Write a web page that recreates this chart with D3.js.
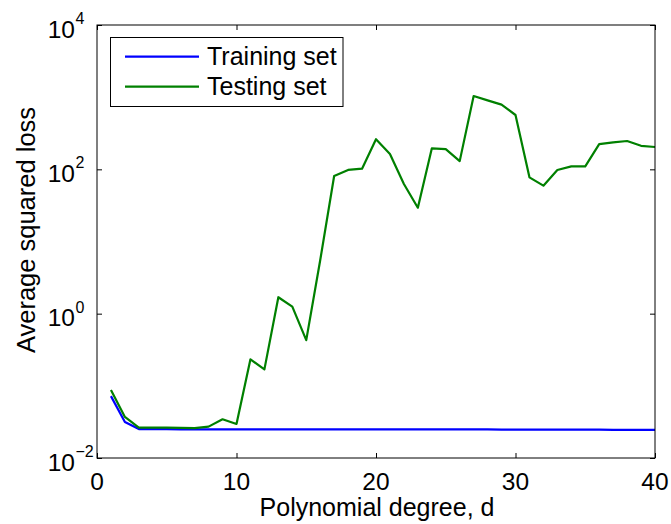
<!DOCTYPE html>
<html>
<head>
<meta charset="utf-8">
<script src="https://cdn.jsdelivr.net/npm/d3@7.9.0/dist/d3.min.js"></script>
<style>
  body { margin: 0; background: #fff; }
  svg text { font-family: "Liberation Sans", Arial, sans-serif; fill: #000; }
</style>
</head>
<body>
<svg id="chart" width="671" height="524"></svg>
<script>
// polynomial degree on x
const degrees = d3.range(1, 41);

// average squared loss
const trainLoss = [
  0.072, 0.0316, 0.0252, 0.0251, 0.0251, 0.0250, 0.0250, 0.0250, 0.0250, 0.0250,
  0.0250, 0.0250, 0.0249, 0.0249, 0.0249, 0.0249, 0.0249, 0.0249, 0.0249, 0.0249,
  0.0249, 0.0249, 0.0249, 0.0249, 0.0249, 0.0249, 0.0249, 0.0249, 0.0248, 0.0248,
  0.0247, 0.0247, 0.0247, 0.0247, 0.0247, 0.0247, 0.0246, 0.0246, 0.0246, 0.0246
];
const testLoss = [
  0.0875, 0.037, 0.0263, 0.0263, 0.0264, 0.0262, 0.0259, 0.0272, 0.0344, 0.0296,
  0.233, 0.169, 1.69, 1.25, 0.43, 5.5, 80.8, 98, 102, 261,
  163, 62.6, 29.4, 195, 191, 130, 1038, 904, 787, 566,
  77.5, 59.4, 97.8, 110, 110, 224, 237, 247, 212, 204
];

const xTicks = [0, 10, 20, 30, 40];
const yTickExps = [-2, 0, 2, 4];

const seriesNames = ['Training set', 'Testing set'];
const seriesColors = ['#0000ff', '#008000'];

const plotLeft = 97, plotRight = 655, plotTop = 25, plotBottom = 458;

const svg = d3.select('#chart');

const x = d3.scaleLinear().domain([0, 40]).range([plotLeft, plotRight]);
const y = d3.scaleLog().domain([1e-2, 1e4]).range([plotBottom, plotTop]);

// lines
const line = d3.line()
  .x((d) => x(d[0]))
  .y((d) => y(d[1]));

[trainLoss, testLoss].forEach((vals, i) => {
  svg.append('path')
    .datum(degrees.map((d, j) => [d, vals[j]]))
    .attr('fill', 'none')
    .attr('stroke', seriesColors[i])
    .attr('stroke-width', 2.2)
    .attr('stroke-linejoin', 'round')
    .attr('d', line);
});

// axes with inward ticks on all four sides
const tickLen = 5;
const axisStyle = (g) => {
  g.select('.domain').remove();
  g.selectAll('.tick line').attr('stroke', '#000').attr('stroke-width', 1);
  g.selectAll('.tick text').remove();
};

svg.append('g').attr('transform', `translate(0,${plotBottom})`)
  .call(d3.axisBottom(x).tickValues(xTicks).tickSize(-tickLen))
  .call(axisStyle);
svg.append('g').attr('transform', `translate(0,${plotTop})`)
  .call(d3.axisTop(x).tickValues(xTicks).tickSize(-tickLen))
  .call(axisStyle);

const yTicks = yTickExps.map((e) => Math.pow(10, e));
svg.append('g').attr('transform', `translate(${plotLeft},0)`)
  .call(d3.axisLeft(y).tickValues(yTicks).tickSize(-tickLen))
  .call(axisStyle);
svg.append('g').attr('transform', `translate(${plotRight},0)`)
  .call(d3.axisRight(y).tickValues(yTicks).tickSize(-tickLen))
  .call(axisStyle);

// frame
svg.append('rect')
  .attr('x', plotLeft).attr('y', plotTop)
  .attr('width', plotRight - plotLeft).attr('height', plotBottom - plotTop)
  .attr('fill', 'none').attr('stroke', '#000').attr('stroke-width', 1);

// x tick labels
svg.selectAll('.xlab')
  .data(xTicks)
  .join('text')
  .attr('x', (d) => x(d))
  .attr('y', 490)
  .attr('text-anchor', 'middle')
  .attr('font-size', 24.5)
  .text((d) => d);

// y tick labels 10^n
yTickExps.forEach((e) => {
  const ty = y(Math.pow(10, e));
  svg.append('text')
    .attr('x', 75).attr('y', ty + 12.5)
    .attr('text-anchor', 'end')
    .attr('font-size', 24.5)
    .text('10');
  svg.append('text')
    .attr('x', 75.5).attr('y', ty - 1)
    .attr('font-size', 16)
    .text(e < 0 ? '\u2212' + (-e) : e);
});

// axis titles
svg.append('text')
  .attr('x', 377).attr('y', 516)
  .attr('text-anchor', 'middle')
  .attr('font-size', 25)
  .text('Polynomial degree, d');

svg.append('text')
  .attr('transform', 'translate(35,230) rotate(-90)')
  .attr('text-anchor', 'middle')
  .attr('font-size', 25.5)
  .text('Average squared loss');

// legend
const legend = svg.append('g');
legend.append('rect')
  .attr('x', 110.5).attr('y', 37.5)
  .attr('width', 232.5).attr('height', 69)
  .attr('fill', '#fff').attr('stroke', '#000').attr('stroke-width', 1);

seriesNames.forEach((name, i) => {
  const ly = 56.7 + i * 30;
  legend.append('line')
    .attr('x1', 125).attr('x2', 199)
    .attr('y1', ly).attr('y2', ly)
    .attr('stroke', seriesColors[i]).attr('stroke-width', 2.2);
  legend.append('text')
    .attr('x', 207).attr('y', ly + 8.5)
    .attr('font-size', 25)
    .text(name);
});
</script>
</body>
</html>
